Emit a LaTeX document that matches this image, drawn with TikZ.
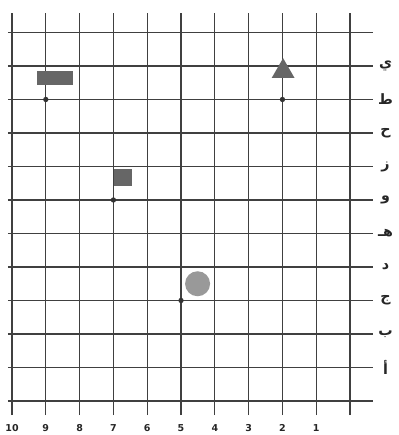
\documentclass[tikz,border=0pt]{standalone}
\usepackage{fontspec}
\setmainfont{DejaVu Sans}
\newfontfamily\arabicfont[Script=Arabic]{DejaVu Sans}
\TeXXeTstate=1
\usetikzlibrary{shapes.geometric}
\begin{document}
\begin{tikzpicture}[x=1cm,y=0.991cm]
	\tikzstyle{gridline} =[draw=black!75, line width=1pt];
	\tikzstyle{rowlabel} =[font=\arabicfont\bfseries\large, text=black!85, inner sep=0pt];
	\tikzstyle{collabel} =[font=\bfseries\footnotesize, text=black!85, inner sep=0pt];
	\tikzstyle{point} =[circle, fill=black!80, inner sep=0pt, minimum size=4.5pt];
	\tikzstyle{marker} =[fill=black!60, inner sep=0pt];
	\useasboundingbox (-0.355,-1.015) rectangle (11.42,11.97);
	
	\foreach \i in {0,...,10} \draw[gridline] (\i,-0.42) -- (\i,11.58);
	\foreach \j in {0,...,11} \draw[gridline] (-0.12,\j) -- (10.68,\j);
	
	\foreach \n in {1,...,10} \node[collabel] (col\n) at (10-\n,-0.8) {\n};
	\foreach \l [count=\j] in {أ,ب,ج,د,هـ,و,ز,ح,ط,ي} \node[rowlabel] (row\j) at (11.05,\j) {\beginR\l\endR};
	
	\node[point] (rectpt) at (1,9) {};
	\node[point] (squarept) at (3,6) {};
	\node[point] (circlept) at (5,3) {};
	\node[point] (trianglept) at (8,9) {};
	
	\node[marker, minimum width=1.05cm, minimum height=0.42cm] (rectangle) at (1.27,9.64) {};
	\node[marker, minimum size=0.52cm] (square) at (3.28,6.67) {};
	\node[marker, circle, fill=black!40, minimum size=0.74cm] (disc) at (5.49,3.5) {};
	\node[marker, regular polygon, regular polygon sides=3, minimum size=0.78cm] (triangle) at (8.02,9.84) {};
\end{tikzpicture}
\end{document}
